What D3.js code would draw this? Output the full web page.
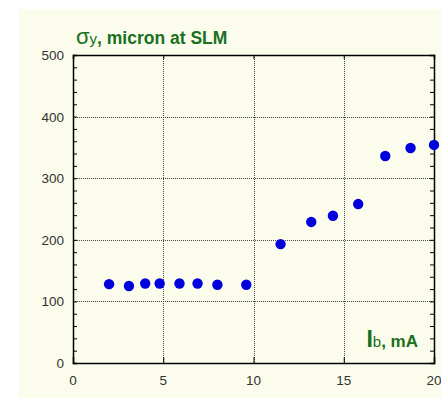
<!DOCTYPE html>
<html><head><meta charset="utf-8">
<script src="https://cdn.jsdelivr.net/npm/d3@7"></script>
<style>body{margin:0;background:#fff}svg{display:block}</style>
</head><body>
<script>
const current = [2.0, 3.1, 4.0, 4.8, 5.9, 6.9, 8.0, 9.6, 11.5, 13.2, 14.4, 15.8, 17.3, 18.7, 20.0];
const sigmaY  = [128, 125, 129, 129, 129, 129, 127, 127, 193, 229, 239, 258, 336, 349, 354];
const xTicks = [0, 5, 10, 15, 20];
const yTicks = [0, 100, 200, 300, 400, 500];

const W = 441, H = 400;
const svg = d3.select("body").append("svg").attr("width", W).attr("height", H);
svg.append("rect").attr("x", 19).attr("y", 9).attr("width", 422).attr("height", 389).attr("fill", "#FCFCEC");

const x = d3.scaleLinear().domain([0, 20]).range([73, 434]);
const y = d3.scaleLinear().domain([0, 500]).range([363, 55]);
const green = "#18701E";

// grid
const grid = svg.append("g").attr("stroke", "#444").attr("stroke-width", 1).attr("stroke-dasharray", "1,1");
grid.selectAll("line.gx").data([5, 10, 15]).join("line")
  .attr("x1", d => Math.round(x(d)) + 0.5).attr("x2", d => Math.round(x(d)) + 0.5)
  .attr("y1", y(500)).attr("y2", y(0));
grid.selectAll("line.gy").data([100, 200, 300, 400, 500]).join("line")
  .attr("y1", d => Math.round(y(d)) + 0.5).attr("y2", d => Math.round(y(d)) + 0.5)
  .attr("x1", x(0)).attr("x2", x(20));

// axes
const minor = d3.range(0, 501, 20);
const axL = svg.append("g").attr("transform", `translate(${x(0)},0)`)
  .call(d3.axisRight(y).tickValues(minor).tickSize(4).tickFormat(""));
const axR = svg.append("g").attr("transform", `translate(${x(20)},0)`)
  .call(d3.axisLeft(y).tickValues(minor).tickSize(4).tickFormat(""));
const axB = svg.append("g").attr("transform", `translate(0,${y(0)})`)
  .call(d3.axisTop(x).tickValues([5, 10, 15]).tickSize(6).tickFormat(""));
const axT = svg.append("g").attr("transform", `translate(0,${y(500)})`)
  .call(d3.axisBottom(x).tickValues([5, 10, 15]).tickSize(4).tickFormat(""));
[axL, axR, axB, axT].forEach(a => {
  a.selectAll("path").attr("stroke", "#000").attr("stroke-width", 1.5);
  a.selectAll("line").attr("stroke", "#000");
});

// tick labels
svg.append("g").selectAll("text").data(xTicks).join("text")
  .attr("x", d => x(d)).attr("y", 385).attr("text-anchor", "middle")
  .attr("font-family", "Liberation Sans, Arial, sans-serif").attr("font-size", 13.5).attr("fill", "#333")
  .text(d => d);
svg.append("g").selectAll("text").data(yTicks).join("text")
  .attr("x", 64).attr("y", d => y(d) + 5).attr("text-anchor", "end")
  .attr("font-family", "Liberation Sans, Arial, sans-serif").attr("font-size", 13.5).attr("fill", "#333")
  .text(d => d);

// points
svg.append("g").selectAll("circle").data(current).join("circle")
  .attr("cx", (d, i) => x(d)).attr("cy", (d, i) => y(sigmaY[i])).attr("r", 5.2)
  .attr("fill", "#0000DD");

// title
const t = svg.append("text").attr("x", 76).attr("y", 44)
  .attr("font-family", "Liberation Sans, Arial, sans-serif").attr("fill", green);
t.append("tspan").attr("font-size", 22).text("σ");
t.append("tspan").attr("font-size", 15).text("y");
t.append("tspan").attr("font-size", 17.5).attr("font-weight", "bold").text(", micron at SLM");

// x label
const xl = svg.append("text").attr("x", 418).attr("y", 347).attr("text-anchor", "end")
  .attr("font-family", "Liberation Sans, Arial, sans-serif").attr("fill", green);
xl.append("tspan").attr("font-size", 23).attr("font-weight", "bold").text("I");
xl.append("tspan").attr("font-size", 15).text("b");
xl.append("tspan").attr("font-size", 17).attr("font-weight", "bold").text(", mA");
</script>
</body></html>
